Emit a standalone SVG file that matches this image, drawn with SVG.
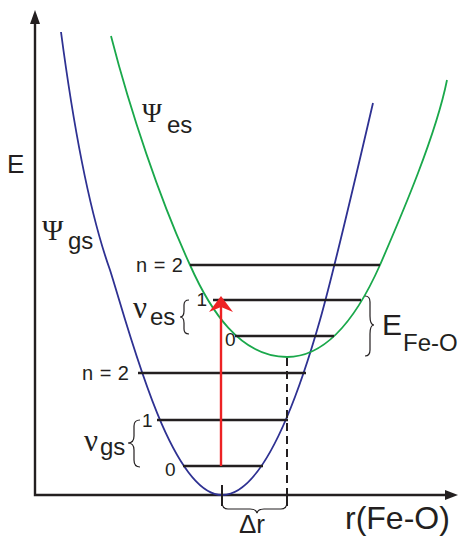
<svg xmlns="http://www.w3.org/2000/svg" width="458" height="540" viewBox="0 0 458 540">
<style>
.ax{stroke:#231f20;stroke-width:2.4;fill:none}
.lvl{stroke:#231f20;stroke-width:2.4;fill:none}
.gs{stroke:#2e3192;stroke-width:1.8;fill:none}
.es{stroke:#1aa84b;stroke-width:1.8;fill:none}
.br{stroke:#231f20;stroke-width:1.2;fill:none}
.t{font-family:"Liberation Sans",Arial,sans-serif;fill:#231f20}
.g{font-family:"Liberation Serif","Times New Roman",serif;fill:#231f20}
.n{font-size:20px;word-spacing:1px}
</style>
<rect width="458" height="540" fill="#fff"/>
<g id="axes">
<path class="ax" d="M35,22 V495 H448"/>
<polygon points="35,10 30,24 40,24" fill="#231f20"/>
<polygon points="458,495 445,490 445,500" fill="#231f20"/>
<text class="t" x="7" y="173" font-size="26">E</text>
<text class="t" x="345" y="529" font-size="32">r(Fe-O)</text>
</g>
<g id="curve-gs">
<path class="gs" d="M61,32 C70,100 85,200 110,270 C128,326 170,495 222,495 C265,495 300,390 320,320 C334,271 355,180 373,103"/>
<text class="g" x="42" y="240" font-size="29">Ψ</text>
<text class="t" x="68" y="249" font-size="24">gs</text>
</g>
<g id="curve-es">
<path class="es" d="M111,36 C130,110 160,200 190,265 C210,310 240,357 287,357 C330,357 360,310 380,265 C395,230 435,140 447,80"/>
<text class="g" x="142" y="122" font-size="27">Ψ</text>
<text class="t" x="167" y="133" font-size="24">es</text>
</g>
<g id="levels-es">
<line class="lvl" x1="190" y1="265" x2="380" y2="265"/>
<line class="lvl" x1="213" y1="300" x2="361" y2="300"/>
<line class="lvl" x1="235" y1="336" x2="334" y2="336"/>
<text class="t n" x="183" y="272" text-anchor="end">n = 2</text>
<text class="t" x="207" y="306" font-size="19" text-anchor="end">1</text>
<text class="t" x="225" y="346" font-size="19">0</text>
<text class="g" x="133" y="318" font-size="31">ν</text>
<text class="t" x="150" y="325" font-size="24">es</text>
<path class="br" d="M189,300 q-5,0 -5,5 v6 q0,6 -4,6 q4,0 4,6 v6 q0,5 5,5"/>
</g>
<g id="levels-gs">
<line class="lvl" x1="138" y1="373" x2="306" y2="373"/>
<line class="lvl" x1="157" y1="420" x2="288" y2="420"/>
<line class="lvl" x1="183" y1="466" x2="263" y2="466"/>
<text class="t n" x="129" y="380" text-anchor="end">n = 2</text>
<text class="t" x="142" y="427" font-size="19">1</text>
<text class="t" x="165" y="476" font-size="19">0</text>
<text class="g" x="84" y="451" font-size="31">ν</text>
<text class="t" x="100" y="455" font-size="24">gs</text>
<path class="br" d="M140,420 q-6,0 -6,6 v10 q0,7 -6,7 q6,0 6,7 v10 q0,7 6,7"/>
</g>
<g id="energy-label">
<path class="br" d="M365,296 q5,0 5,6 v14 q0,9 4,9 q-4,0 -4,9 v16 q0,6 -5,6"/>
<text class="t" x="382" y="335" font-size="30">E</text>
<text class="t" x="403" y="351" font-size="24">Fe-O</text>
</g>
<g id="connectors">
<line x1="221" y1="466" x2="221" y2="306" stroke="#ed2224" stroke-width="2.4"/>
<polygon points="221,296 233,312 221,307 209,312" fill="#ed2224"/>
<line x1="287" y1="358" x2="287" y2="495" stroke="#231f20" stroke-width="2" stroke-dasharray="8,5"/>
<line x1="222" y1="485" x2="222" y2="506" stroke="#231f20" stroke-width="2"/>
<line x1="287" y1="495" x2="287" y2="506" stroke="#231f20" stroke-width="2"/>
<path class="br" d="M222,502 q0,7 6,7 h22 q6,0 7,4 q1,-4 7,-4 h17 q6,0 6,-7"/>
<text class="t" x="239" y="533" font-size="26">Δr</text>
</g>
</svg>
